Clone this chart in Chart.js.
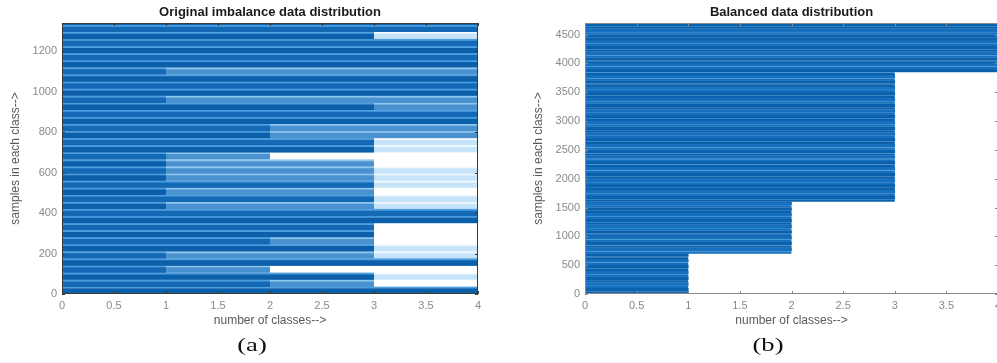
<!DOCTYPE html>
<html>
<head>
<meta charset="utf-8">
<title>Class distribution before and after balancing</title>
<script src="https://cdn.jsdelivr.net/npm/chart.js@4/dist/chart.umd.min.js"></script>
<style>
  html, body { margin: 0; padding: 0; background: #fff; }
  body { width: 997px; height: 363px; overflow: hidden; position: relative; }
  .panel { position: absolute; top: 0; }
  #panelA { left: 0; width: 500px; height: 340px; }
  #panelB { left: 500px; width: 520px; height: 340px; }
  .caption {
    position: absolute; top: 334px; width: 60px; text-align: center;
    font-family: "Liberation Serif", "Times New Roman", serif; font-size: 19px; color: #111;
    transform: scaleX(1.4); transform-origin: center;
  }
</style>
</head>
<body>
<div class="panel" id="panelA"><canvas id="chartA" width="500" height="340"></canvas></div>
<div class="panel" id="panelB"><canvas id="chartB" width="520" height="340"></canvas></div>
<div class="caption" style="left:222px">(a)</div>
<div class="caption" style="left:738px">(b)</div>
<script>
// ---------- data ----------
// (a) original data: samples are drawn in strips of 35 samples (bottom to top).
// For each strip: how far the solid bars reach, how far the lighter overlapping
// bars reach, and how far the palest bars reach (number of classes).
const stripSamplesA = 35;
const reachDarkA = [4,2,3,1,4, 1,3,2,3,3, 4,4,1,3,1, 3,1,1,1,1, 3,3,2,2,4, 4,3,1,4,4, 4,1,4,4,4, 4,3,4,4];
const reachMidA  = [4,3,3,2,4, 3,3,3,3,3, 4,4,3,3,3, 3,3,3,3,2, 3,3,4,4,4, 4,4,4,4,4, 4,4,4,4,4, 4,3,4,4];
const reachPaleA = [4,3,4,2,4, 4,4,3,3,3, 4,4,4,4,3, 4,4,4,3,2, 4,4,4,4,4, 4,4,4,4,4, 4,4,4,4,4, 4,4,4,4];
const yMaxA = 1340;
const yTicksA = [0, 200, 400, 600, 800, 1000, 1200];

// (b) balanced data, sorted by class: last sample index of each class
const classLabelsB = [1, 2, 3, 4];
const classEndB = [710, 1610, 3850, 4700];
const stripSamplesB = 50;
const yMaxB = 4700;
const yTicksB = [0, 500, 1000, 1500, 2000, 2500, 3000, 3500, 4000, 4500];

const xTicks = [0, 0.5, 1, 1.5, 2, 2.5, 3, 3.5, 4];

// ---------- helpers ----------
const SANS = '"Liberation Sans", Arial, Helvetica, sans-serif';

function strips(reach, step) {
  return reach.map((v, i) => ({ x: v, y: i * step + step / 2 }));
}

function balancedStrips() {
  const out = [];
  for (let y = stripSamplesB / 2; y < yMaxB; y += stripSamplesB) {
    const k = classEndB.findIndex(end => y < end);
    out.push({ x: classLabelsB[k], y: y });
  }
  return out;
}

// frame around the axes with short inward tick marks
const axesBox = {
  id: 'axesBox',
  afterDatasetsDraw(chart, args, opts) {
    const { ctx, chartArea: a, scales } = chart;
    ctx.save();
    ctx.strokeStyle = opts.color;
    ctx.lineWidth = 1;
    ctx.beginPath();
    ctx.rect(Math.round(a.left) + 0.5, Math.round(a.top) + 0.5,
             Math.round(a.width) - 1, Math.round(a.height) - 1);
    const len = 3;
    scales.x.ticks.forEach(t => {
      const px = Math.round(scales.x.getPixelForValue(t.value)) + 0.5;
      ctx.moveTo(px, a.bottom); ctx.lineTo(px, a.bottom - len);
      ctx.moveTo(px, a.top); ctx.lineTo(px, a.top + len);
    });
    scales.y.ticks.forEach(t => {
      const py = Math.round(scales.y.getPixelForValue(t.value)) + 0.5;
      ctx.moveTo(a.left, py); ctx.lineTo(a.left + len, py);
      ctx.moveTo(a.right, py); ctx.lineTo(a.right - len, py);
    });
    ctx.stroke();
    ctx.restore();
  }
};

function baseOptions(cfg) {
  return {
    indexAxis: 'y',
    responsive: false,
    animation: false,
    devicePixelRatio: 1,
    layout: { padding: { left: 0, right: cfg.padRight, top: 0, bottom: 0 } },
    plugins: {
      legend: { display: false },
      tooltip: { enabled: false },
      axesBox: { color: cfg.boxColor }
    },
    scales: {
      x: {
        type: 'linear', position: 'bottom', min: 0, max: 4, offset: false,
        afterBuildTicks: s => { s.ticks = xTicks.map(v => ({ value: v })); },
        grid: { display: false, drawTicks: false },
        border: { display: false },
        ticks: { color: '#8a8a8a', padding: 5, font: { family: SANS, size: 11 }, callback: v => String(v) },
        title: { display: true, text: 'number of classes-->', color: '#5a5a5a',
                 font: { family: SANS, size: 12 }, padding: { top: 0, bottom: 12 } },
        afterFit: s => { s.height = 46; }
      },
      y: {
        type: 'linear', position: 'left', min: 0, max: cfg.yMax, offset: false,
        afterBuildTicks: s => { s.ticks = cfg.yTicks.map(v => ({ value: v })); },
        grid: { display: false, drawTicks: false },
        border: { display: false },
        ticks: { color: '#8a8a8a', padding: 5, font: { family: SANS, size: 11 }, callback: v => String(v) },
        title: { display: true, text: 'samples in each class-->', color: '#5a5a5a',
                 font: { family: SANS, size: 12 }, padding: { top: cfg.yTitlePad, bottom: 0 } },
        afterFit: s => { s.width = cfg.yWidth; }
      },
      heading: {
        axis: 'x', type: 'linear', position: 'top', min: 0, max: 4, display: true,
        grid: { display: false, drawTicks: false },
        border: { display: false },
        ticks: { display: false },
        title: { display: true, text: cfg.title, color: '#1a1a1a',
                 font: { family: SANS, size: 13, weight: 'bold' }, padding: { top: 5, bottom: 0 } },
        afterFit: s => { s.height = 23; }
      }
    }
  };
}

const barCommon = {
  grouped: false,
  barPercentage: 1,
  categoryPercentage: 1,
  borderSkipped: false
};

// ---------- (a) original imbalance ----------
new Chart(document.getElementById('chartA'), {
  type: 'bar',
  data: {
    datasets: [
      Object.assign({}, barCommon, {
        label: 'class reach',
        data: strips(reachDarkA, stripSamplesA),
        order: 0,
        backgroundColor: c => (c.dataIndex % 2 ? '#1469b4' : '#0c60aa'),
        borderColor: '#4f9fe0',
        borderWidth: { top: 2, right: 0, bottom: 0, left: 0 }
      }),
      Object.assign({}, barCommon, {
        label: 'overlapping samples',
        data: strips(reachMidA, stripSamplesA),
        order: 1,
        backgroundColor: '#4a92cf',
        borderColor: '#8fc6ee',
        borderWidth: { top: 2, right: 0, bottom: 0, left: 0 }
      }),
      Object.assign({}, barCommon, {
        label: 'sparse samples',
        data: strips(reachPaleA, stripSamplesA),
        order: 2,
        backgroundColor: '#c6e4f9',
        borderColor: '#f2f9fe',
        borderWidth: { top: 2, right: 0, bottom: 0, left: 0 }
      })
    ]
  },
  options: baseOptions({
    title: 'Original imbalance data distribution',
    yMax: yMaxA, yTicks: yTicksA, yWidth: 62, yTitlePad: 8,
    padRight: 22, boxColor: '#3a3a3a'
  }),
  plugins: [axesBox]
});

// ---------- (b) balanced ----------
new Chart(document.getElementById('chartB'), {
  type: 'bar',
  data: {
    datasets: [
      Object.assign({}, barCommon, {
        label: 'class reach',
        data: balancedStrips(),
        order: 0,
        backgroundColor: c => (c.dataIndex % 4 < 2 ? '#0c61ac' : '#1670bd'),
        borderColor: '#7fc0ef',
        borderWidth: c => ({ top: c.dataIndex % 2 ? 0 : 1, right: 0, bottom: 0, left: 0 })
      })
    ]
  },
  options: baseOptions({
    title: 'Balanced data distribution',
    yMax: yMaxB, yTicks: yTicksB, yWidth: 85, yTitlePad: 31,
    padRight: 22, boxColor: '#8a8a8a'
  }),
  plugins: [axesBox]
});
</script>
</body>
</html>
